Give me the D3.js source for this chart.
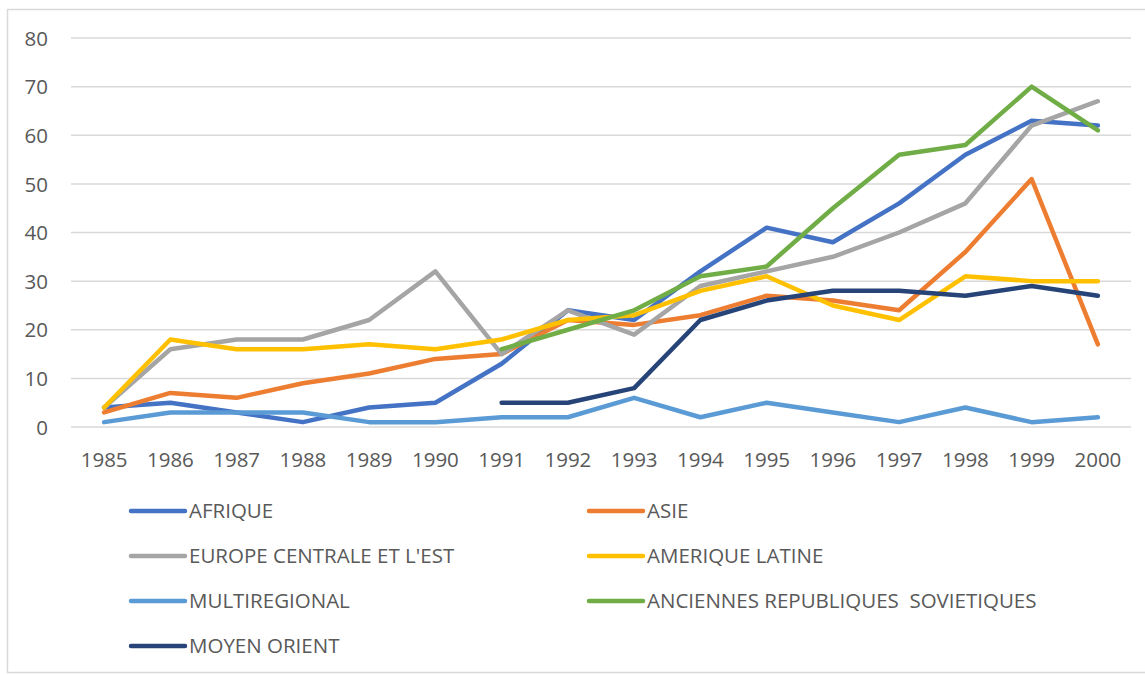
<!DOCTYPE html>
<html>
<head>
<meta charset="utf-8">
<script src="https://cdn.jsdelivr.net/npm/d3@7"></script>
<style>
  body { margin: 0; background: #fff; }
  text { font-family: "Open Sans", "Noto Sans", sans-serif; fill: #595959; white-space: pre; }
</style>
</head>
<body>
<div id="chart-area"></div>
<script>
// years on the x axis
var years = ["1985","1986","1987","1988","1989","1990","1991","1992","1993","1994","1995","1996","1997","1998","1999","2000"]
var yTicks = [0, 10, 20, 30, 40, 50, 60, 70, 80]

// series values (null = no data)
var afrique      = [4, 5, 3, 1, 4, 5, 13, 24, 22, 32, 41, 38, 46, 56, 63, 62]
var asie         = [3, 7, 6, 9, 11, 14, 15, 22, 21, 23, 27, 26, 24, 36, 51, 17]
var europe       = [4, 16, 18, 18, 22, 32, 15, 24, 19, 29, 32, 35, 40, 46, 62, 67]
var ameriqueLat  = [4, 18, 16, 16, 17, 16, 18, 22, 23, 28, 31, 25, 22, 31, 30, 30]
var multiregional= [1, 3, 3, 3, 1, 1, 2, 2, 6, 2, 5, 3, 1, 4, 1, 2]
var anciennesRep = [null, null, null, null, null, null, 16, 20, 24, 31, 33, 45, 56, 58, 70, 61]
var moyenOrient  = [null, null, null, null, null, null, 5, 5, 8, 22, 26, 28, 28, 27, 29, 27]

var seriesNames = ["AFRIQUE", "ASIE", "EUROPE CENTRALE ET L'EST", "AMERIQUE LATINE",
                   "MULTIREGIONAL", "ANCIENNES REPUBLIQUES  SOVIETIQUES", "MOYEN ORIENT"]
var seriesValues = [afrique, asie, europe, ameriqueLat, multiregional, anciennesRep, moyenOrient]
var seriesColors = ["#4472C4", "#ED7D31", "#A5A5A5", "#FFC000", "#5B9BD5", "#70AD47", "#264478"]

var cw = 1145
var ch = 675

var svg = d3.select("#chart-area").append("svg")
    .attr("width", cw)
    .attr("height", ch)

// chart border
svg.append("rect")
    .attr("x", 7.5)
    .attr("y", 9.5)
    .attr("width", 1140)
    .attr("height", 663)
    .attr("fill", "none")
    .attr("stroke", "#d9d9d9")
    .attr("stroke-width", 1.5)

var x = d3.scaleBand()
    .domain(years)
    .range([71, 1131])

var y = d3.scaleLinear()
    .domain([0, 80])
    .range([427, 38])

// gridlines
svg.append("g")
    .attr("class", "grid")
    .selectAll("line")
    .data(yTicks).enter().append("line")
        .attr("x1", 71)
        .attr("x2", 1131)
        .attr("y1", d => y(d))
        .attr("y2", d => y(d))
        .attr("stroke", "#d9d9d9")
        .attr("stroke-width", 1.5)

// y axis labels
var leftAxis = d3.axisLeft(y)
    .tickValues(yTicks)
    .tickSize(0)
    .tickPadding(0)

var gy = svg.append("g")
    .attr("class", "left axis")
    .attr("transform", "translate(48, 0)")
    .call(leftAxis)
gy.select(".domain").remove()
gy.selectAll("text")
    .attr("font-size", "20.5px")
    .attr("dy", "0.35em")

// x axis labels
var bottomAxis = d3.axisBottom(x)
    .tickSize(0)
    .tickPadding(0)

var gx = svg.append("g")
    .attr("class", "bottom axis")
    .attr("transform", "translate(0, 460)")
    .call(bottomAxis)
gx.select(".domain").remove()
gx.selectAll("text")
    .attr("font-size", "20.5px")
    .attr("dy", "0.35em")

// lines
var line = d3.line()
    .defined(d => d.v != null)
    .x(d => x(d.year) + x.bandwidth() / 2)
    .y(d => y(d.v))

seriesValues.forEach((vals, i) => {
    var pts = vals.map((v, j) => ({year: years[j], v: v}))
    svg.append("path")
        .datum(pts)
        .attr("fill", "none")
        .attr("stroke", seriesColors[i])
        .attr("stroke-width", 4.5)
        .attr("stroke-linejoin", "round")
        .attr("stroke-linecap", "round")
        .attr("d", line)
})

// legend
var legend = svg.append("g").attr("class", "legend")
seriesNames.forEach((name, i) => {
    var col = i % 2
    var row = Math.floor(i / 2)
    var lx = col == 0 ? 131 : 589
    var ly = 511 + row * 45
    legend.append("line")
        .attr("x1", lx)
        .attr("x2", lx + 54)
        .attr("y1", ly)
        .attr("y2", ly)
        .attr("stroke", seriesColors[i])
        .attr("stroke-width", 4.5)
        .attr("stroke-linecap", "round")
    legend.append("text")
        .attr("x", lx + 58)
        .attr("y", ly)
        .attr("dy", "0.35em")
        .attr("font-size", "20.5px")
        .text(name)
})
</script>
</body>
</html>
